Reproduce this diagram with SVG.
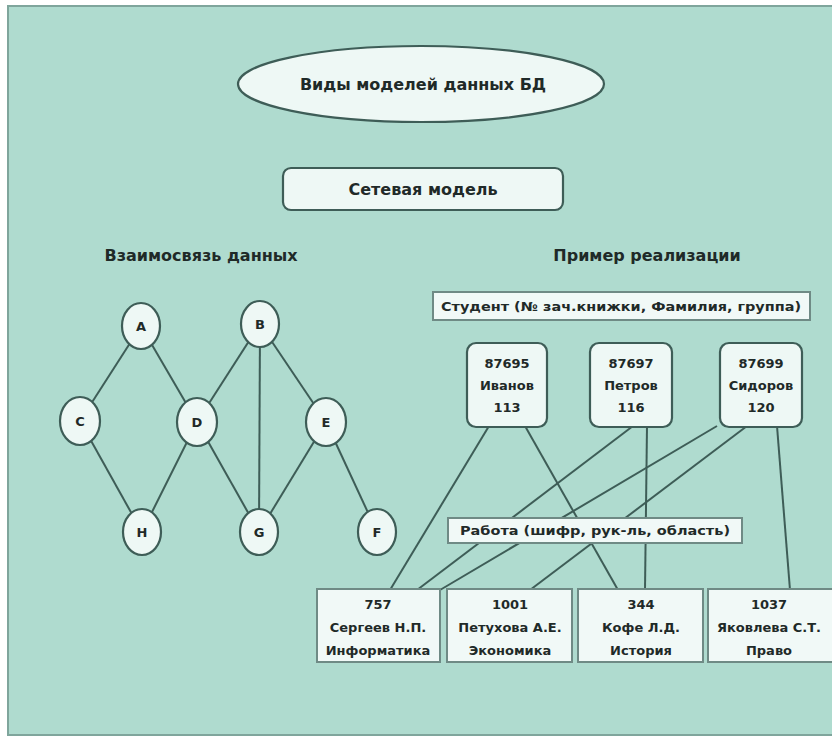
<svg xmlns="http://www.w3.org/2000/svg" width="832" height="739" viewBox="0 0 832 739">
  <style>
    .bg { fill: #afdbcf; stroke: #7fa59c; stroke-width: 2; }
    .shape { fill: #eef8f5; stroke: #3e5d57; stroke-width: 2.2; }
    .rec { fill: #f1f9f7; stroke: #6f8a85; stroke-width: 2; }
    .link { stroke: #3e5d57; stroke-width: 2; fill: none; }
    text { font-family: "DejaVu Sans", Verdana, sans-serif; font-weight: bold; fill: #1f2a28; text-anchor: middle; }
    .h { font-size: 16px; }
    .n { font-size: 13px; }
    .s { font-size: 12.5px; }
  </style>

  <rect x="0" y="0" width="832" height="739" fill="#ffffff"/>
  <rect class="bg" x="8" y="6" width="830" height="729"/>

  <!-- headings -->
  <g id="title">
    <ellipse class="shape" cx="421" cy="84" rx="183" ry="38"/>
    <text class="h" x="423" y="90">Виды моделей данных БД</text>
  </g>
  <g id="model">
    <rect class="shape" x="283" y="168" width="280" height="42" rx="8"/>
    <text class="h" x="423" y="195">Сетевая модель</text>
  </g>
  <text class="h" x="201" y="261">Взаимосвязь данных</text>
  <text class="h" x="647" y="261">Пример реализации</text>

  <!-- graph edges -->
  <g id="connectors">
    <line class="link" x1="141" y1="326" x2="80" y2="421"/>
    <line class="link" x1="141" y1="326" x2="197" y2="422"/>
    <line class="link" x1="80" y1="421" x2="142" y2="532"/>
    <line class="link" x1="197" y1="422" x2="142" y2="532"/>
    <line class="link" x1="260" y1="324" x2="197" y2="422"/>
    <line class="link" x1="260" y1="324" x2="259" y2="532"/>
    <line class="link" x1="260" y1="324" x2="326" y2="422"/>
    <line class="link" x1="197" y1="422" x2="259" y2="532"/>
    <line class="link" x1="326" y1="422" x2="259" y2="532"/>
    <line class="link" x1="326" y1="422" x2="377" y2="532"/>

    <!-- student to work links -->
    <line class="link" x1="489" y1="426" x2="390" y2="590"/>
    <line class="link" x1="525" y1="426" x2="618" y2="590"/>
    <line class="link" x1="633" y1="426" x2="417" y2="590"/>
    <line class="link" x1="647" y1="426" x2="645" y2="590"/>
    <line class="link" x1="717" y1="426" x2="440" y2="590"/>
    <line class="link" x1="747" y1="426" x2="530" y2="590"/>
    <line class="link" x1="777" y1="426" x2="790" y2="590"/>
  </g>

  <!-- graph nodes -->
  <g id="node-A"><ellipse class="shape" cx="141" cy="326" rx="19" ry="23"/><text class="n" x="141" y="331">A</text></g>
  <g id="node-B"><ellipse class="shape" cx="260" cy="324" rx="19" ry="23"/><text class="n" x="260" y="329">B</text></g>
  <g id="node-C"><ellipse class="shape" cx="80" cy="421" rx="20" ry="24"/><text class="n" x="80" y="426">C</text></g>
  <g id="node-D"><ellipse class="shape" cx="197" cy="422" rx="20" ry="24"/><text class="n" x="197" y="427">D</text></g>
  <g id="node-E"><ellipse class="shape" cx="326" cy="422" rx="20" ry="24"/><text class="n" x="326" y="427">E</text></g>
  <g id="node-H"><ellipse class="shape" cx="142" cy="532" rx="19" ry="23"/><text class="n" x="142" y="537">H</text></g>
  <g id="node-G"><ellipse class="shape" cx="259" cy="532" rx="19" ry="23"/><text class="n" x="259" y="537">G</text></g>
  <g id="node-F"><ellipse class="shape" cx="377" cy="532" rx="19" ry="23"/><text class="n" x="377" y="537">F</text></g>

  <!-- record headers -->
  <g id="student-header">
    <rect class="rec" x="433" y="292" width="377" height="28"/>
    <text class="s" x="621" y="311" textLength="360" lengthAdjust="spacingAndGlyphs">Студент (№ зач.книжки, Фамилия, группа)</text>
  </g>
  <g id="work-header">
    <rect class="rec" x="448" y="518" width="294" height="25"/>
    <text class="s" x="595" y="535" textLength="270" lengthAdjust="spacingAndGlyphs">Работа (шифр, рук-ль, область)</text>
  </g>

  <!-- students -->
  <g id="student-87695">
    <rect class="shape" x="467" y="343" width="80" height="84" rx="9"/>
    <text class="n" x="507" y="368">87695</text>
    <text class="n" x="507" y="390">Иванов</text>
    <text class="n" x="507" y="412">113</text>
  </g>
  <g id="student-87697">
    <rect class="shape" x="590" y="343" width="82" height="84" rx="9"/>
    <text class="n" x="631" y="368">87697</text>
    <text class="n" x="631" y="390">Петров</text>
    <text class="n" x="631" y="412">116</text>
  </g>
  <g id="student-87699">
    <rect class="shape" x="720" y="343" width="82" height="84" rx="9"/>
    <text class="n" x="761" y="368">87699</text>
    <text class="n" x="761" y="390">Сидоров</text>
    <text class="n" x="761" y="412">120</text>
  </g>

  <!-- supervisors -->
  <g id="work-757">
    <rect class="rec" x="317" y="589" width="123" height="73"/>
    <text class="n" x="378" y="609">757</text>
    <text class="n" x="378" y="632">Сергеев Н.П.</text>
    <text class="n" x="378" y="655">Информатика</text>
  </g>
  <g id="work-1001">
    <rect class="rec" x="447" y="589" width="125" height="73"/>
    <text class="n" x="510" y="609">1001</text>
    <text class="n" x="510" y="632">Петухова А.Е.</text>
    <text class="n" x="510" y="655">Экономика</text>
  </g>
  <g id="work-344">
    <rect class="rec" x="578" y="589" width="125" height="73"/>
    <text class="n" x="641" y="609">344</text>
    <text class="n" x="641" y="632">Кофе Л.Д.</text>
    <text class="n" x="641" y="655">История</text>
  </g>
  <g id="work-1037">
    <rect class="rec" x="708" y="589" width="130" height="73"/>
    <text class="n" x="769" y="609">1037</text>
    <text class="n" x="769" y="632">Яковлева С.Т.</text>
    <text class="n" x="769" y="655">Право</text>
  </g>
</svg>
